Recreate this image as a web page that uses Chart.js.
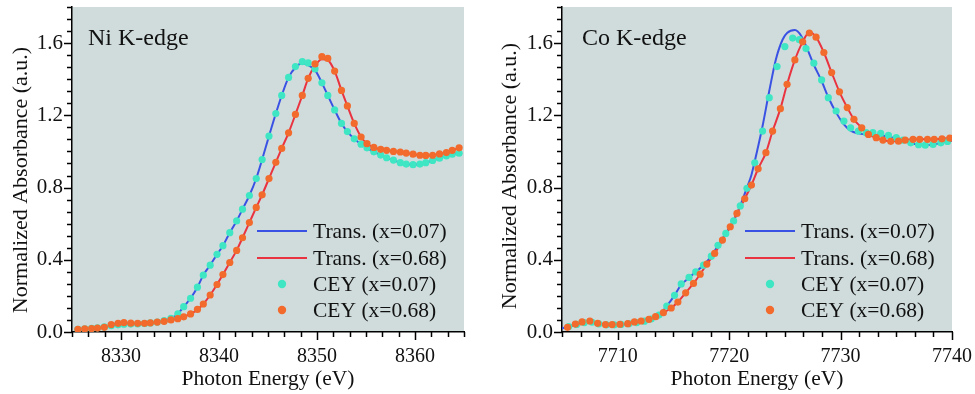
<!DOCTYPE html>
<html>
<head>
<meta charset="utf-8">
<script src="https://cdn.jsdelivr.net/npm/chart.js@4.4.1/dist/chart.umd.min.js"></script>
<style>
    html, body { margin: 0; padding: 0; background: #fff; }
    #wrap { position: relative; width: 975px; height: 394px; }
    canvas { position: absolute; top: 0; }
    #niChart { left: 0; }
    #coChart { left: 487px; }
</style>
</head>
<body>
<div id="wrap">
    <canvas id="niChart" width="487" height="394"></canvas>
    <canvas id="coChart" width="488" height="394"></canvas>
</div>
<script>
// ---- Ni K-edge (left panel) ----
const niEnergy = [
    8325.6, 8326.3, 8327.0, 8327.6, 8328.3, 8329.0, 8329.7, 8330.3, 8331.0, 8331.7,
    8332.4, 8333.0, 8333.7, 8334.4, 8335.1, 8335.8, 8336.4, 8337.1, 8337.8, 8338.4,
    8339.1, 8339.8, 8340.4, 8341.1, 8341.8, 8342.4, 8343.1, 8343.8, 8344.4, 8345.1,
    8345.8, 8346.4, 8347.1, 8347.8, 8348.5, 8349.1, 8349.8, 8350.5, 8351.1, 8351.8,
    8352.5, 8353.1, 8353.8, 8354.5, 8355.1, 8355.8, 8356.5, 8357.1, 8357.8, 8358.5,
    8359.1, 8359.8, 8360.5, 8361.1, 8361.8, 8362.5, 8363.2, 8363.8, 8364.5
];
const niCey07 = [
    0.015, 0.017, 0.020, 0.023, 0.028, 0.035, 0.040, 0.043, 0.044, 0.045,
    0.047, 0.050, 0.055, 0.063, 0.075, 0.100, 0.140, 0.187, 0.248, 0.315,
    0.370, 0.430, 0.478, 0.550, 0.615, 0.680, 0.756, 0.850, 0.955, 1.085,
    1.210, 1.310, 1.410, 1.470, 1.497, 1.490, 1.457, 1.380, 1.310, 1.230,
    1.155, 1.110, 1.070, 1.040, 1.020, 0.998, 0.980, 0.965, 0.952, 0.938,
    0.930, 0.927, 0.930, 0.938, 0.950, 0.963, 0.975, 0.985, 0.990
];
const niCey68 = [
    0.015, 0.017, 0.019, 0.022, 0.026, 0.041, 0.048, 0.052, 0.049, 0.048,
    0.048, 0.051, 0.055, 0.059, 0.067, 0.074, 0.084, 0.100, 0.125, 0.155,
    0.205, 0.263, 0.318, 0.385, 0.452, 0.522, 0.606, 0.690, 0.760, 0.850,
    0.940, 1.017, 1.103, 1.205, 1.310, 1.405, 1.485, 1.525, 1.515, 1.445,
    1.338, 1.252, 1.155, 1.080, 1.043, 1.022, 1.012, 1.006, 1.000, 0.997,
    0.991, 0.985, 0.979, 0.978, 0.979, 0.986, 0.994, 1.006, 1.020
];
const niTrans07 = [
    0.015, 0.017, 0.020, 0.023, 0.028, 0.035, 0.040, 0.043, 0.044, 0.045,
    0.047, 0.050, 0.055, 0.063, 0.075, 0.100, 0.140, 0.187, 0.248, 0.315,
    0.370, 0.430, 0.478, 0.550, 0.615, 0.680, 0.756, 0.850, 0.955, 1.085,
    1.210, 1.310, 1.410, 1.465, 1.488, 1.478, 1.450, 1.380, 1.310, 1.230,
    1.155, 1.110, 1.070, 1.040, 1.020, 0.998, 0.980, 0.965, 0.952, 0.938,
    0.930, 0.927, 0.930, 0.938, 0.950, 0.963, 0.975, 0.985, 0.990
];
const niTrans68 = [
    0.015, 0.017, 0.019, 0.022, 0.026, 0.041, 0.048, 0.052, 0.049, 0.048,
    0.048, 0.051, 0.055, 0.059, 0.067, 0.074, 0.084, 0.100, 0.125, 0.155,
    0.205, 0.263, 0.318, 0.385, 0.452, 0.522, 0.606, 0.690, 0.760, 0.850,
    0.940, 1.017, 1.103, 1.205, 1.310, 1.405, 1.475, 1.510, 1.505, 1.445,
    1.338, 1.252, 1.155, 1.080, 1.043, 1.022, 1.012, 1.006, 1.000, 0.997,
    0.991, 0.985, 0.979, 0.978, 0.979, 0.986, 0.994, 1.006, 1.020
];

// ---- Co K-edge (right panel) ----
const coEnergy07 = [
    7705.6, 7706.3, 7707.0, 7707.7, 7708.3, 7709.0, 7709.7, 7710.3, 7711.0, 7711.7,
    7712.4, 7713.0, 7713.7, 7714.4, 7715.1, 7715.7, 7716.4, 7717.0, 7717.7, 7718.4,
    7719.0, 7719.7, 7720.4, 7721.0, 7721.6, 7722.3, 7723.0, 7723.6, 7724.3, 7725.0,
    7725.7, 7726.3, 7726.9, 7727.6, 7728.3, 7728.9, 7729.6, 7730.3, 7730.9, 7731.6,
    7732.3, 7732.9, 7733.6, 7734.3, 7735.0, 7735.6, 7736.3, 7737.0, 7737.6, 7738.3,
    7739.0, 7739.6
];
const coCey07 = [
    0.030, 0.042, 0.052, 0.054, 0.045, 0.040, 0.040, 0.042, 0.046, 0.052,
    0.060, 0.072, 0.094, 0.144, 0.203, 0.266, 0.302, 0.333, 0.370, 0.420,
    0.480, 0.546, 0.615, 0.698, 0.796, 0.937, 1.113, 1.298, 1.470, 1.581,
    1.628, 1.619, 1.570, 1.489, 1.396, 1.298, 1.224, 1.168, 1.131, 1.113,
    1.104, 1.104, 1.100, 1.089, 1.076, 1.063, 1.048, 1.037, 1.035, 1.039,
    1.048, 1.055
];
const coEnergy68 = [
    7705.5, 7706.2, 7706.8, 7707.5, 7708.2, 7708.9, 7709.5, 7710.2, 7710.9, 7711.5,
    7712.1, 7712.8, 7713.4, 7714.1, 7714.8, 7715.4, 7716.1, 7716.8, 7717.4, 7718.0,
    7718.7, 7719.4, 7720.1, 7720.7, 7721.4, 7722.0, 7722.6, 7723.3, 7723.9, 7724.6,
    7725.2, 7725.9, 7726.6, 7727.2, 7727.8, 7728.5, 7729.2, 7729.9, 7730.6, 7731.2,
    7731.9, 7732.5, 7733.2, 7733.8, 7734.5, 7735.2, 7735.8, 7736.5, 7737.1, 7737.8,
    7738.4, 7739.1, 7739.8
];
const coCey68 = [
    0.026, 0.044, 0.056, 0.061, 0.048, 0.041, 0.041, 0.043, 0.046, 0.056,
    0.061, 0.070, 0.085, 0.107, 0.133, 0.166, 0.217, 0.269, 0.320, 0.376,
    0.435, 0.509, 0.583, 0.657, 0.738, 0.814, 0.904, 0.993, 1.113, 1.237,
    1.372, 1.507, 1.607, 1.656, 1.633, 1.548, 1.437, 1.330, 1.243, 1.178,
    1.131, 1.094, 1.076, 1.063, 1.056, 1.057, 1.063, 1.067, 1.067, 1.067,
    1.067, 1.070, 1.074
];
const coTransEnergy07 = [
    7705.0, 7705.6, 7706.3, 7707.0, 7707.7, 7708.3, 7709.0, 7709.7, 7710.3, 7711.0,
    7711.7, 7712.4, 7713.0, 7713.7, 7714.4, 7715.1, 7715.7, 7716.4, 7717.0, 7717.7,
    7718.4, 7719.0, 7719.7, 7720.4, 7721.0, 7721.6, 7722.0, 7722.5, 7723.0, 7723.6,
    7724.2, 7724.8, 7725.2, 7725.9, 7726.5, 7727.0, 7727.6, 7728.3, 7728.9, 7729.6,
    7730.3, 7730.9, 7731.6, 7732.3, 7733.0, 7733.6, 7734.3, 7735.0, 7735.6, 7736.3,
    7737.0, 7737.6, 7738.3, 7739.0, 7739.6, 7740.0
];
const coTrans07 = [
    0.020, 0.030, 0.042, 0.052, 0.054, 0.045, 0.040, 0.040, 0.042, 0.046,
    0.052, 0.060, 0.072, 0.094, 0.144, 0.203, 0.262, 0.300, 0.333, 0.370,
    0.420, 0.480, 0.546, 0.615, 0.700, 0.800, 0.870, 1.000, 1.141, 1.335,
    1.511, 1.620, 1.656, 1.672, 1.637, 1.570, 1.480, 1.390, 1.300, 1.215,
    1.150, 1.115, 1.100, 1.095, 1.093, 1.090, 1.082, 1.072, 1.060, 1.047,
    1.037, 1.035, 1.039, 1.047, 1.055, 1.060
];
const coTrans68 = [
    0.026, 0.044, 0.056, 0.061, 0.048, 0.041, 0.041, 0.043, 0.046, 0.056,
    0.061, 0.070, 0.085, 0.107, 0.133, 0.166, 0.217, 0.269, 0.320, 0.376,
    0.435, 0.509, 0.583, 0.657, 0.738, 0.814, 0.904, 0.993, 1.113, 1.237,
    1.372, 1.507, 1.607, 1.660, 1.633, 1.548, 1.437, 1.330, 1.243, 1.178,
    1.131, 1.094, 1.076, 1.063, 1.056, 1.057, 1.063, 1.067, 1.067, 1.067,
    1.067, 1.070, 1.074
];

// ---- axes / labels ----
const niXTicks = [8330, 8340, 8350, 8360];
const coXTicks = [7710, 7720, 7730, 7740];
const yTicks = [0.0, 0.4, 0.8, 1.2, 1.6];
const seriesLabels = ['Trans. (x=0.07)', 'Trans. (x=0.68)', 'CEY (x=0.07)', 'CEY (x=0.68)'];

const FONT = "'Liberation Serif', 'Times New Roman', serif";
const BLUE = '#3a52e4', RED = '#ea3340', CYAN = '#3fe6c4', ORANGE = '#f26a2c';

function pts(xs, ys) {
    return xs.map((x, i) => ({ x: x, y: ys[i] }));
}

// background, tick marks, titles, panel label and legend
const panelDecor = {
    id: 'panelDecor',
    beforeDraw(chart) {
        const a = chart.chartArea, ctx = chart.ctx;
        ctx.save();
        ctx.fillStyle = '#d0dcdc';
        ctx.fillRect(a.left, a.top, a.right - a.left, a.bottom - a.top);
        ctx.restore();
    },
    afterDraw(chart, args, o) {
        const ctx = chart.ctx, a = chart.chartArea;
        const xs = chart.scales.x, ys = chart.scales.y;
        ctx.save();
        ctx.strokeStyle = '#000';
        ctx.lineWidth = 1.5;

        // x ticks: 5 minor ticks between majors
        const xStep = 10 / 6;
        for (let i = 0; xs.min + i * xStep <= xs.max + 1e-6; i++) {
            const v = xs.min + i * xStep;
            const major = Math.abs(v / 10 - Math.round(v / 10)) < 1e-3;
            const px = Math.round(xs.getPixelForValue(v)) + 0.5;
            ctx.beginPath();
            ctx.moveTo(px, a.bottom);
            ctx.lineTo(px, a.bottom + (major ? 8 : 5));
            ctx.stroke();
        }
        // y ticks
        const yStep = 0.4 / 6;
        for (let i = 0; i * yStep <= ys.max + 1e-6; i++) {
            const v = i * yStep;
            const major = i % 6 === 0;
            const py = Math.round(ys.getPixelForValue(v)) + 0.5;
            ctx.beginPath();
            ctx.moveTo(a.left, py);
            ctx.lineTo(a.left - (major ? 8 : 5), py);
            ctx.stroke();
        }

        ctx.fillStyle = '#111';
        // axis titles
        ctx.font = '21.5px ' + FONT;
        ctx.textAlign = 'center';
        ctx.textBaseline = 'alphabetic';
        ctx.fillText('Photon Energy (eV)', (a.left + a.right) / 2, 385);
        ctx.font = '22px ' + FONT;
        ctx.save();
        ctx.translate(o.yTitleX, o.yTitleY);
        ctx.rotate(-Math.PI / 2);
        ctx.fillText('Normalized Absorbance (a.u.)', 0, 0);
        ctx.restore();

        // panel label
        ctx.font = '24px ' + FONT;
        ctx.textAlign = 'left';
        ctx.fillText(o.label, o.labelX, 45);

        // legend
        const rows = [231, 258, 284, 310];
        ctx.font = '21.5px ' + FONT;
        ctx.textBaseline = 'middle';
        chart.data.datasets.forEach((ds, i) => {
            const y = rows[i];
            if (ds.showLine === false) {
                ctx.fillStyle = ds.pointBackgroundColor;
                ctx.beginPath();
                ctx.arc(o.legendX + 25, y, 4.2, 0, Math.PI * 2);
                ctx.fill();
            } else {
                ctx.strokeStyle = ds.borderColor;
                ctx.lineWidth = 2;
                ctx.beginPath();
                ctx.moveTo(o.legendX, y);
                ctx.lineTo(o.legendX + 50, y);
                ctx.stroke();
            }
            ctx.fillStyle = '#111';
            ctx.fillText(ds.label, o.legendX + 56, y + 1);
        });
        ctx.restore();
    }
};

function lineSet(label, data, color, order) {
    return {
        label: label, data: data, borderColor: color, backgroundColor: color,
        borderWidth: 2, pointRadius: 0, cubicInterpolationMode: 'monotone', order: order
    };
}
function dotSet(label, data, color, order) {
    return {
        label: label, data: data, showLine: false, pointRadius: 3.6, pointBorderWidth: 0,
        pointBackgroundColor: color, borderColor: color, backgroundColor: color, order: order
    };
}

function makeChart(id, datasets, xMin, xMax, xTicks, yWidth, padRight, deco) {
    return new Chart(document.getElementById(id), {
        type: 'line',
        data: { datasets: datasets },
        options: {
            responsive: false,
            animation: false,
            layout: { padding: { left: 0, right: padRight, top: 7, bottom: 0 } },
            plugins: { legend: { display: false }, tooltip: { enabled: false }, panelDecor: deco },
            scales: {
                x: {
                    type: 'linear', min: xMin, max: xMax,
                    afterBuildTicks: s => { s.ticks = xTicks.map(v => ({ value: v })); },
                    afterFit: s => { s.height = 62; s.paddingLeft = 0; s.paddingRight = 0; },
                    grid: { display: true, drawOnChartArea: false, drawTicks: false },
                    border: { display: true, color: '#000', width: 1.5 },
                    ticks: { padding: 13, color: '#111', font: { family: FONT, size: 20 }, maxRotation: 0,
                             callback: v => String(v) }
                },
                y: {
                    type: 'linear', min: 0, max: 1.8,
                    afterBuildTicks: s => { s.ticks = yTicks.map(v => ({ value: v })); },
                    afterFit: s => { s.width = yWidth; s.paddingTop = 0; s.paddingBottom = 0; },
                    grid: { display: true, drawOnChartArea: false, drawTicks: false },
                    border: { display: true, color: '#000', width: 1.5 },
                    ticks: { padding: 9, color: '#111', font: { family: FONT, size: 21 },
                             callback: v => v.toFixed(1) }
                }
            }
        },
        plugins: [panelDecor]
    });
}

makeChart('niChart', [
    lineSet(seriesLabels[0], pts(niEnergy, niTrans07), BLUE, 3),
    lineSet(seriesLabels[1], pts(niEnergy, niTrans68), RED, 2),
    dotSet(seriesLabels[2], pts(niEnergy, niCey07), CYAN, 1),
    dotSet(seriesLabels[3], pts(niEnergy, niCey68), ORANGE, 0)
], 8325, 8365, niXTicks, 72, 23,
    { label: 'Ni K-edge', labelX: 88, legendX: 257, yTitleX: 27, yTitleY: 180 });

makeChart('coChart', [
    lineSet(seriesLabels[0], pts(coTransEnergy07, coTrans07), BLUE, 3),
    lineSet(seriesLabels[1], pts(coEnergy68, coTrans68), RED, 2),
    dotSet(seriesLabels[2], pts(coEnergy07, coCey07), CYAN, 1),
    dotSet(seriesLabels[3], pts(coEnergy68, coCey68), ORANGE, 0)
], 7705, 7740, coXTicks, 75, 23,
    { label: 'Co K-edge', labelX: 95, legendX: 258, yTitleX: 29, yTitleY: 176 });
</script>
</body>
</html>
